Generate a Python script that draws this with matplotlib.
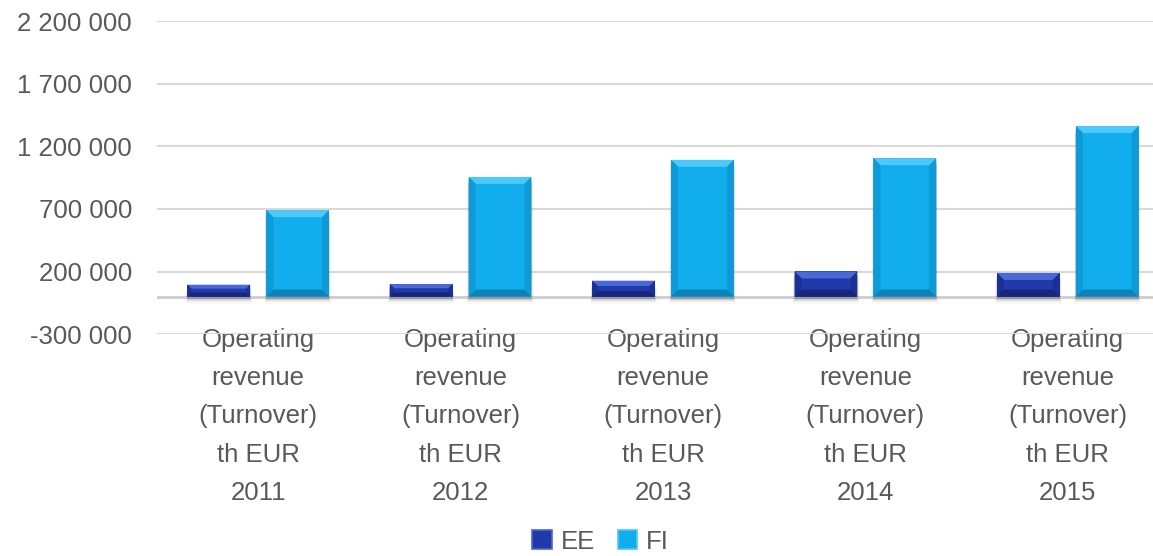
import matplotlib
matplotlib.use("Agg")
import matplotlib.pyplot as plt
from matplotlib.patches import Polygon, Rectangle, Patch

years = ["2011", "2012", "2013", "2014", "2015"]
ee = [95000, 100000, 127000, 201000, 189000]
fi = [690000, 956000, 1092000, 1105000, 1362000]
series = ["EE", "FI"]
yticks = [-300000, 200000, 700000, 1200000, 1700000, 2200000]

# main, top light, side, bottom dark
palette = {
    "EE": ("#2139AA", "#4A68D6", "#1B3096", "#15267C"),
    "FI": ("#12ADEC", "#4DC8F8", "#0E9AD6", "#0B83BA"),
}

plt.rcParams["font.family"] = ["Liberation Sans", "DejaVu Sans"]
grey = "#595959"
fs = 18.5

fig = plt.figure(figsize=(11.53, 5.56), dpi=100)
ax = fig.add_axes([157 / 1153, 0.399, 1012 / 1153, 0.563])
ax.set_xlim(-0.5, len(years) - 0.5)
ax.set_ylim(yticks[0], yticks[-1])

bw = 0.31
gap = 0.08
ppx = 1.0 / 202.5          # data x per pixel
ppy = 2500000 / 313.0      # data y per pixel


def bevel_bar(x0, h, cols):
    main, top, side, bot = cols
    x1 = x0 + bw
    hp = h / ppy
    b = min(7.0, hp / 3.0)
    bx, by = b * ppx, b * ppy
    # soft shadow under the bar
    for i, a in enumerate([0.16, 0.12, 0.08, 0.05, 0.03]):
        ax.add_patch(Rectangle((x0 - 0.002 * i, -(2 + 1.3 * i) * ppy), bw + 0.004 * i, h,
                               color="#444444", alpha=a, lw=0, zorder=2))
    ax.add_patch(Rectangle((x0, 0), bw, h, color=main, lw=0, zorder=3))
    ax.add_patch(Polygon([(x0, h), (x1, h), (x1 - bx, h - by), (x0 + bx, h - by)],
                         closed=True, color=top, lw=0, zorder=4))
    ax.add_patch(Polygon([(x0, 0), (x0 + bx, by), (x0 + bx, h - by), (x0, h)],
                         closed=True, color=side, lw=0, zorder=4))
    ax.add_patch(Polygon([(x1, 0), (x1 - bx, by), (x1 - bx, h - by), (x1, h)],
                         closed=True, color=side, lw=0, zorder=4))
    ax.add_patch(Polygon([(x0, 0), (x1, 0), (x1 - bx, by), (x0 + bx, by)],
                         closed=True, color=bot, lw=0, zorder=4))


for i in range(len(years)):
    bevel_bar(i - gap / 2 - bw, ee[i], palette["EE"])
    bevel_bar(i + gap / 2, fi[i], palette["FI"])

ax.set_yticks(yticks)
ax.set_yticklabels([f"{v:,}".replace(",", " ") for v in yticks])
ax.set_xticks(range(len(years)))
ax.set_xticklabels([f"Operating\nrevenue\n(Turnover)\nth EUR\n{y}" for y in years],
                   linespacing=1.75)
ax.tick_params(axis="both", length=0, labelsize=fs, labelcolor=grey)
ax.tick_params(axis="y", pad=18)
ax.tick_params(axis="x", pad=-4.5)
for s in ax.spines.values():
    s.set_visible(False)
ax.grid(axis="y", color="#D9D9D9", lw=1.5, zorder=0)
ax.axhline(0, color="#D0D0D0", lw=2.2, zorder=1)

handles = [Patch(facecolor=palette[s][0], edgecolor=palette[s][1], lw=1.2) for s in series]
fig.legend(handles, series, loc="center", bbox_to_anchor=(0.521, 0.026), ncol=2,
           frameon=False, fontsize=fs, labelcolor=grey, handlelength=0.75,
           handleheight=0.75, handletextpad=0.35, columnspacing=0.9)

fig.savefig("out.png", dpi=100)
